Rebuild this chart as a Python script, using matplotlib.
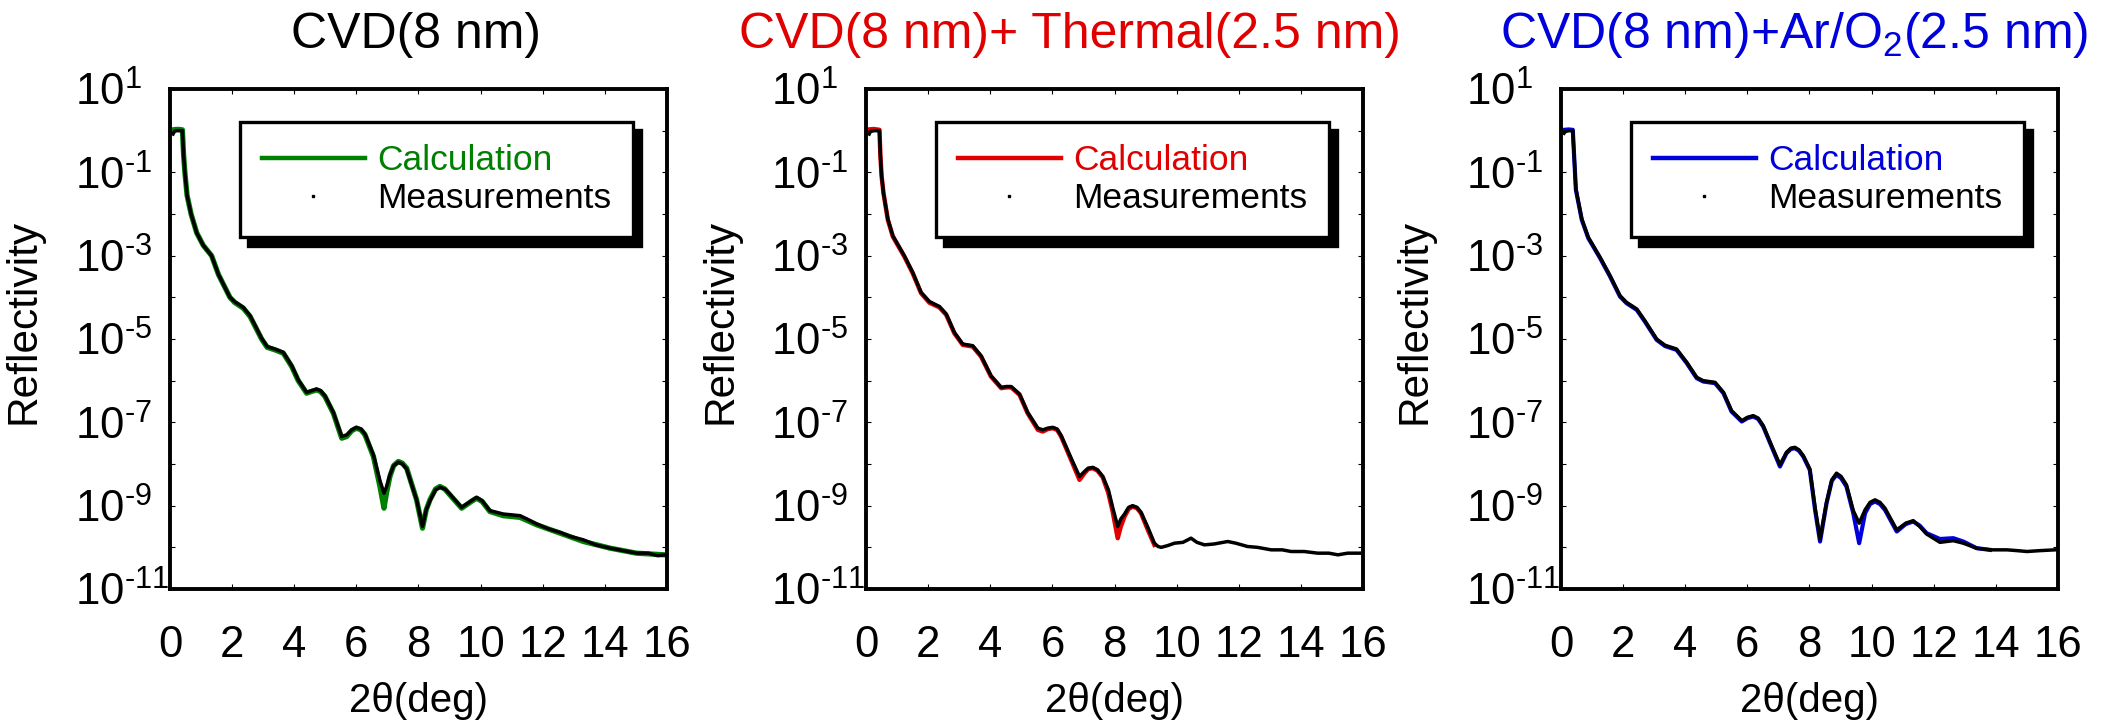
import matplotlib
matplotlib.use("Agg")
import numpy as np
import matplotlib.pyplot as plt
from matplotlib.lines import Line2D
from matplotlib.ticker import NullLocator

plt.rcParams["font.family"] = ["Liberation Sans", "DejaVu Sans"]
plt.rcParams["mathtext.fontset"] = "custom"
plt.rcParams["mathtext.rm"] = "Liberation Sans"
plt.rcParams["mathtext.it"] = "Liberation Sans:italic"
plt.rcParams["mathtext.bf"] = "Liberation Sans:bold"
plt.rcParams["mathtext.default"] = "regular"

# ---- data: 2theta (deg) and log10(reflectivity) ----
cvd_calc_x = [0.10, 0.20, 0.30, 0.40, 0.44, 0.48, 0.55, 0.68, 0.86, 1.07, 1.34, 1.56, 1.93,
              2.08, 2.36, 2.58, 2.95, 3.13, 3.38, 3.65, 3.92, 4.13, 4.40, 4.55, 4.72, 4.85, 4.99, 5.26,
              5.53, 5.69, 5.85, 6.00, 6.15, 6.28, 6.55, 6.76, 6.89, 6.97, 7.08, 7.20, 7.35, 7.48, 7.62,
              7.94, 8.13, 8.25, 8.37, 8.55, 8.69, 8.85, 9.01, 9.39, 9.70, 9.87, 10.05, 10.30, 10.73,
              11.27, 11.81, 12.56, 13.31, 14.17, 15.02, 15.94]
cvd_calc_y = [0.02, 0.03, 0.03, 0.02, -0.60, -1.00, -1.55, -2.00, -2.45, -2.75, -3.00, -3.45, -4.00,
              -4.12, -4.26, -4.46, -5.00, -5.20, -5.26, -5.34, -5.66, -6.00, -6.30, -6.26, -6.22, -6.26, -6.38, -6.78,
              -7.38, -7.34, -7.20, -7.14, -7.18, -7.30, -7.82, -8.54, -9.06, -8.70, -8.30, -8.04, -7.94, -7.98, -8.10,
              -8.86, -9.54, -9.10, -8.86, -8.60, -8.54, -8.60, -8.74, -9.06, -8.90, -8.82, -8.90, -9.14, -9.24,
              -9.28, -9.46, -9.66, -9.86, -10.02, -10.14, -10.18]
cvd_meas_x = [0.10, 0.14, 0.20, 0.30, 0.40, 0.44, 0.48, 0.55, 0.68, 0.86, 1.07, 1.34, 1.56, 1.93,
              2.08, 2.36, 2.58, 2.95, 3.13, 3.38, 3.65, 3.92, 4.13, 4.40, 4.55, 4.72, 4.85, 4.99, 5.26,
              5.53, 5.69, 5.85, 6.00, 6.15, 6.28, 6.55, 6.76, 6.89, 6.97, 7.08, 7.20, 7.35, 7.48, 7.62,
              7.94, 8.13, 8.25, 8.37, 8.55, 8.69, 8.85, 9.01, 9.39, 9.70, 9.87, 10.05, 10.30, 10.73,
              11.00, 11.27, 11.55, 11.81, 12.20, 12.56, 12.90, 13.31, 13.70, 14.17, 14.60, 15.02,
              15.40, 15.70, 15.94]
cvd_meas_y = [-0.08, -0.02, 0.00, 0.00, 0.00, -0.60, -1.00, -1.55, -2.00, -2.45, -2.75, -3.00, -3.45, -4.00,
              -4.10, -4.24, -4.44, -4.98, -5.18, -5.24, -5.32, -5.64, -5.98, -6.28, -6.24, -6.20, -6.24, -6.36, -6.76,
              -7.34, -7.30, -7.18, -7.12, -7.16, -7.28, -7.78, -8.40, -8.70, -8.55, -8.26, -8.04, -7.96, -8.00, -8.12,
              -8.86, -9.50, -9.10, -8.88, -8.62, -8.56, -8.60, -8.72, -9.04, -8.88, -8.80, -8.88, -9.12, -9.20,
              -9.22, -9.24, -9.34, -9.44, -9.56, -9.64, -9.74, -9.82, -9.94, -10.02, -10.08, -10.14,
              -10.14, -10.20, -10.18]

thermal_calc_x = [0.10, 0.25, 0.43, 0.46, 0.50, 0.56, 0.70, 0.86, 1.23, 1.50, 1.77, 2.04, 2.36,
                  2.58, 2.84, 3.11, 3.43, 3.70, 4.02, 4.35, 4.52, 4.67, 4.94, 5.20, 5.53, 5.69, 5.85, 6.01,
                  6.15, 6.28, 6.60, 6.87, 7.03, 7.15, 7.30, 7.45, 7.62, 7.80, 7.94, 8.10, 8.20, 8.32, 8.45,
                  8.58, 8.72, 8.85, 9.07, 9.28]
thermal_calc_y = [0.03, 0.04, 0.02, -0.60, -1.10, -1.50, -2.14, -2.54, -3.02, -3.42, -3.90, -4.13, -4.24,
                  -4.42, -4.86, -5.14, -5.18, -5.42, -5.90, -6.18, -6.16, -6.16, -6.34, -6.78, -7.18, -7.22, -7.16, -7.14,
                  -7.18, -7.34, -7.90, -8.38, -8.22, -8.12, -8.10, -8.16, -8.32, -8.70, -9.15, -9.78, -9.50, -9.26, -9.08,
                  -9.02, -9.06, -9.18, -9.58, -9.94]
thermal_meas_x = [0.10, 0.14, 0.25, 0.43, 0.46, 0.50, 0.56, 0.70, 0.86, 1.23, 1.50, 1.77, 2.04, 2.36,
                  2.58, 2.84, 3.11, 3.43, 3.70, 4.02, 4.35, 4.52, 4.67, 4.94, 5.20, 5.53, 5.69, 5.85, 6.01,
                  6.15, 6.28, 6.60, 6.87, 7.03, 7.15, 7.30, 7.45, 7.62, 7.80, 7.94, 8.10, 8.20, 8.32, 8.45,
                  8.58, 8.72, 8.85, 9.07, 9.28,
                  9.40, 9.50, 9.70, 9.93, 10.20, 10.46, 10.65, 10.89, 11.20, 11.64, 11.90, 12.28, 12.60,
                  13.04, 13.40, 13.68, 14.10, 14.54, 14.90, 15.19, 15.50, 15.88]
thermal_meas_y = [-0.08, -0.02, 0.00, 0.00, -0.60, -1.10, -1.50, -2.12, -2.52, -3.00, -3.40, -3.88, -4.10, -4.22,
                  -4.40, -4.84, -5.12, -5.16, -5.40, -5.88, -6.16, -6.14, -6.14, -6.32, -6.76, -7.14, -7.18, -7.14, -7.12,
                  -7.16, -7.32, -7.86, -8.30, -8.18, -8.10, -8.08, -8.14, -8.30, -8.62, -9.05, -9.50, -9.32, -9.20, -9.04,
                  -9.00, -9.04, -9.16, -9.52, -9.90,
                  -9.98, -10.00, -9.96, -9.90, -9.88, -9.78, -9.88, -9.94, -9.92, -9.86, -9.90, -9.98, -10.00,
                  -10.06, -10.06, -10.10, -10.10, -10.14, -10.14, -10.18, -10.14, -10.14]

aro2_calc_x = [0.10, 0.25, 0.38, 0.43, 0.48, 0.67, 0.88, 1.26, 1.58, 1.90, 2.11, 2.44, 2.70,
               3.08, 3.35, 3.72, 4.05, 4.37, 4.58, 4.96, 5.23, 5.49, 5.82, 6.00, 6.19, 6.35, 6.51, 6.78,
               7.05, 7.26, 7.40, 7.53, 7.66, 7.80, 8.01, 8.18, 8.34, 8.55, 8.72, 8.87, 9.02, 9.19, 9.41,
               9.60, 9.79, 9.95, 10.11, 10.27, 10.43, 10.81, 11.10, 11.34, 11.55, 11.77, 12.20, 12.63,
               12.95, 13.38, 13.81]
aro2_calc_y = [0.02, 0.03, 0.02, -0.70, -1.42, -2.14, -2.58, -3.06, -3.50, -3.98, -4.14, -4.30, -4.58,
               -5.02, -5.17, -5.26, -5.58, -5.94, -6.02, -6.06, -6.30, -6.74, -6.98, -6.90, -6.86, -6.92, -7.10, -7.58,
               -8.06, -7.74, -7.64, -7.62, -7.68, -7.82, -8.14, -9.10, -9.86, -8.94, -8.40, -8.26, -8.34, -8.54, -9.18,
               -9.90, -9.18, -8.96, -8.90, -8.96, -9.10, -9.62, -9.44, -9.38, -9.48, -9.66, -9.80, -9.78,
               -9.86, -10.02, -10.06]
aro2_meas_x = [0.10, 0.14, 0.25, 0.38, 0.43, 0.48, 0.67, 0.88, 1.26, 1.58, 1.90, 2.11, 2.44, 2.70,
               3.08, 3.35, 3.72, 4.05, 4.37, 4.58, 4.96, 5.23, 5.49, 5.82, 6.00, 6.19, 6.35, 6.51, 6.78,
               7.05, 7.26, 7.40, 7.53, 7.66, 7.80, 8.01, 8.18, 8.34, 8.55, 8.72, 8.87, 9.02, 9.19, 9.41,
               9.60, 9.79, 9.95, 10.11, 10.27, 10.43, 10.81, 11.10, 11.34, 11.55, 11.77, 12.20, 12.63,
               12.95, 13.38, 13.81, 14.36, 14.70, 15.00, 15.40, 15.90]
aro2_meas_y = [-0.06, -0.02, 0.00, 0.00, -0.70, -1.40, -2.12, -2.56, -3.04, -3.48, -3.96, -4.12, -4.28, -4.56,
               -5.00, -5.15, -5.24, -5.56, -5.92, -6.00, -6.04, -6.28, -6.72, -6.96, -6.88, -6.84, -6.90, -7.08, -7.56,
               -8.02, -7.72, -7.62, -7.60, -7.66, -7.80, -8.12, -9.05, -9.80, -8.92, -8.38, -8.22, -8.30, -8.50, -9.12,
               -9.42, -9.10, -8.92, -8.86, -8.92, -9.06, -9.58, -9.42, -9.36, -9.50, -9.68, -9.88, -9.84,
               -9.90, -10.02, -10.06, -10.06, -10.08, -10.10, -10.08, -10.06]

titles = ["CVD(8 nm)", "CVD(8 nm)+ Thermal(2.5 nm)", "CVD(8 nm)+Ar/O$_2$(2.5 nm)"]
title_colors = ["black", "#e00000", "#0000dd"]
colors = ["#008000", "#e00000", "#0000dd"]
calc_x = [cvd_calc_x, thermal_calc_x, aro2_calc_x]
calc_y = [cvd_calc_y, thermal_calc_y, aro2_calc_y]
meas_x = [cvd_meas_x, thermal_meas_x, aro2_meas_x]
meas_y = [cvd_meas_y, thermal_meas_y, aro2_meas_y]
exponents = list(range(1, -12, -1))
# short hyphen in the exponent, like the original
ytick_labels = [("$10^{%d}$" % e).replace("-", "\u2010") if e % 2 else "" for e in exponents]

fig = plt.figure(figsize=(21.14, 7.22), dpi=100)
lefts = [0.0804, 0.4097, 0.7384]
title_x = [0.496, 0.41, 0.469]
calc_lw = [3.8, 3.2, 3.0]

for i in range(3):
    ax = fig.add_axes([lefts[i], 0.1842, 0.2351, 0.6925])
    c = colors[i]
    ax.plot(calc_x[i], 10.0 ** np.array(calc_y[i]), color=c, lw=calc_lw[i], zorder=2)
    ax.plot(meas_x[i], 10.0 ** np.array(meas_y[i]), color="k", lw=2.5, zorder=3)

    ax.set_yscale("log")
    ax.set_xlim(0, 16)
    ax.set_ylim(1e-11, 1e1)
    ax.set_xticks(range(0, 17, 2))
    ax.set_yticks([10.0 ** e for e in exponents])
    ax.set_yticklabels(ytick_labels, ha="left")
    ax.yaxis.set_minor_locator(NullLocator())
    ax.tick_params(direction="in", top=True, right=True, length=3.6, width=0.8)
    ax.tick_params(axis="x", labelsize=31.5, pad=26)
    ax.tick_params(axis="y", labelsize=31.5, pad=68.5)
    for sp in ax.spines.values():
        sp.set_linewidth(2.8)

    ax.set_xlabel("2\u03b8(deg)", fontsize=29)
    ax.xaxis.set_label_coords(0.5, -0.186)
    ax.set_ylabel("Reflectivity", fontsize=30.5)
    ax.yaxis.set_label_coords(-0.2535, 0.535)

    ax.text(title_x[i], 1.082, titles[i], transform=ax.transAxes, ha="center",
            va="baseline", fontsize=36, color=title_colors[i])

    handles = [Line2D([], [], color=c, lw=3.2),
               Line2D([], [], color="k", ls="none", marker="s", markersize=1.8)]
    leg = ax.legend(handles, ["Calculation", "Measurements"], loc="upper left",
                    bbox_to_anchor=(0.141, 0.934), borderaxespad=0, fontsize=25.5,
                    fancybox=False, framealpha=1, numpoints=1,
                    shadow={"ox": 5.5, "oy": -6, "color": "k", "alpha": 1},
                    handlelength=2.9, handletextpad=0.35, borderpad=0.62, labelspacing=0.15)
    leg.get_frame().set_edgecolor("k")
    leg.get_frame().set_linewidth(2.4)
    leg.get_texts()[0].set_color(c)

fig.savefig("out.png", dpi=100)
